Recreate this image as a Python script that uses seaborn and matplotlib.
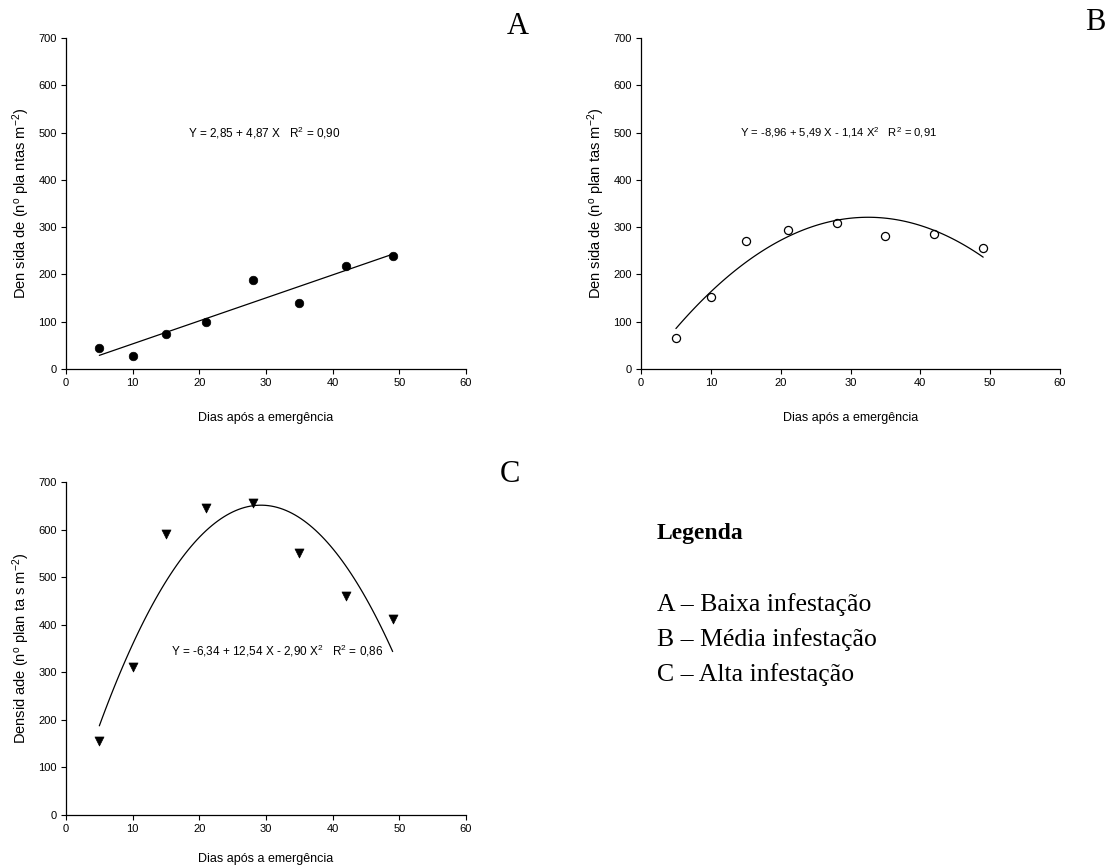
import matplotlib
matplotlib.use("Agg")
import matplotlib.pyplot as plt
import seaborn as sns
import numpy as np
import pandas as pd

# ---- data ----
dias = [5, 10, 15, 21, 28, 35, 42, 49]
dens_baixa = [45, 28, 74, 100, 188, 140, 218, 240]
dens_media = [66, 153, 270, 295, 309, 282, 286, 256]
dens_alta = [155, 311, 590, 645, 655, 550, 460, 411]

x_ticks = [0, 10, 20, 30, 40, 50, 60]
y_ticks = [0, 100, 200, 300, 400, 500, 600, 700]

eq_a = "Y = 2,85 + 4,87 X   R$^{2}$ = 0,90"
eq_b = "Y = -8,96 + 5,49 X - 1,14 X$^{2}$   R$^{2}$ = 0,91"
eq_c = "Y = -6,34 + 12,54 X - 2,90 X$^{2}$   R$^{2}$ = 0,86"

ylab_a = "Den sida de (n$^{\\mathrm{o}}$ pla ntas m$^{\\mathrm{-2}}$)"
ylab_b = "Den sida de (n$^{\\mathrm{o}}$ plan tas m$^{\\mathrm{-2}}$)"
ylab_c = "Densid ade (n$^{\\mathrm{o}}$ plan ta s m$^{\\mathrm{-2}}$)"
xlab = "Dias após a emergência"

legend_title = "Legenda"
legend_items = ["A – Baixa infestação", "B – Média infestação", "C – Alta infestação"]

df = pd.DataFrame({"dias": dias, "baixa": dens_baixa, "media": dens_media, "alta": dens_alta})

sns.set_style("ticks")
plt.rcParams['font.family'] = ['Liberation Sans', 'DejaVu Sans']
plt.rcParams['mathtext.fontset'] = 'custom'
plt.rcParams['mathtext.rm'] = 'Liberation Sans'
plt.rcParams['mathtext.it'] = 'Liberation Sans:italic'
plt.rcParams['mathtext.bf'] = 'Liberation Sans:bold'
plt.rcParams['text.color'] = 'black'
plt.rcParams['axes.labelcolor'] = 'black'
plt.rcParams['xtick.color'] = 'black'
plt.rcParams['ytick.color'] = 'black'

W, H = 1114, 868
fig = plt.figure(figsize=(W / 100, H / 100), dpi=100)

def box(l, r, t, b):
    return [l / W, 1 - b / H, (r - l) / W, (b - t) / H]

ax_a = fig.add_axes(box(66, 466, 38, 369))
ax_b = fig.add_axes(box(641, 1060, 38, 369))
ax_c = fig.add_axes(box(66, 466, 482, 815))

line_kws = dict(color="black", linewidth=0.9)

sns.regplot(data=df, x="dias", y="baixa", ax=ax_a, order=1, ci=None, truncate=True,
            marker="o", scatter_kws=dict(s=38, color="black", edgecolor="black", linewidths=0.5, alpha=1),
            line_kws=line_kws)
sns.regplot(data=df, x="dias", y="media", ax=ax_b, order=2, ci=None, truncate=True,
            marker="o", scatter_kws=dict(s=34, facecolors="white", edgecolors="black", linewidths=0.9, alpha=1),
            line_kws=line_kws)
sns.regplot(data=df, x="dias", y="alta", ax=ax_c, order=2, ci=None, truncate=True,
            marker="v", scatter_kws=dict(s=42, color="black", edgecolor="black", linewidths=0.5, alpha=1),
            line_kws=line_kws)

for ax, ylab, lp in [(ax_a, ylab_a, 17), (ax_b, ylab_b, 17), (ax_c, ylab_c, 14)]:
    ax.set_xlim(0, 60)
    ax.set_ylim(0, 700)
    ax.set_xticks(x_ticks)
    ax.set_yticks(y_ticks)
    ax.tick_params(axis="both", direction="out", length=3.5, width=0.8, labelsize=8, colors="black", pad=3)
    for s in ["left", "bottom"]:
        ax.spines[s].set_linewidth(0.9)
        ax.spines[s].set_color("black")
    sns.despine(ax=ax)
    ax.set_xlabel(xlab, fontsize=9, labelpad=lp)
    ax.set_ylabel(ylab, fontsize=10.5, labelpad=5)
    ax.patch.set_alpha(0)

ax_a.text(18.3, 500, eq_a, fontsize=8.5, va="center", ha="left")
ax_b.text(14.2, 500, eq_b, fontsize=8.1, va="center", ha="left")
ax_c.text(15.8, 345, eq_c, fontsize=8.5, va="center", ha="left")

serif = ['Liberation Serif', 'DejaVu Serif']
fig.text(518 / W, 1 - 27 / H, "A", family=serif, fontsize=22, ha="center", va="center")
fig.text(1095 / W, 1 - 22 / H, "B", family=serif, fontsize=22, ha="center", va="center")
fig.text(510 / W, 1 - 475 / H, "C", family=serif, fontsize=22, ha="center", va="center")

fig.text(657 / W, 1 - 533 / H, legend_title, family=serif, fontsize=17, fontweight="bold",
         ha="left", va="center")
for i, item in enumerate(legend_items):
    fig.text(657 / W, 1 - (605 + 35 * i) / H, item, family=serif, fontsize=18.5,
             ha="left", va="center")

fig.savefig("out.png", dpi=100, facecolor="white")
